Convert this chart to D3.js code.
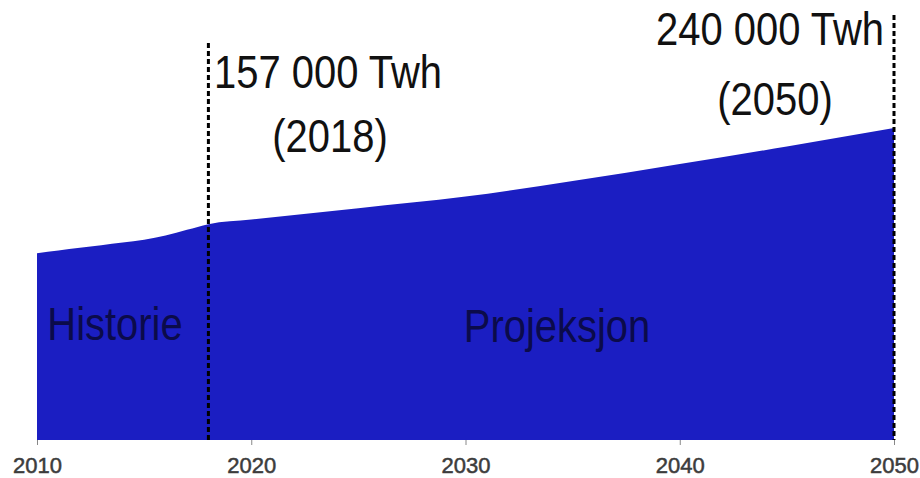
<!DOCTYPE html>
<html>
<head>
<meta charset="utf-8">
<script src="https://cdnjs.cloudflare.com/ajax/libs/d3/7.8.5/d3.min.js"></script>
<style>
  body { margin: 0; background: #fff; }
  text { font-family: "Liberation Sans", Arial, sans-serif; }
</style>
</head>
<body>
<div id="chart"></div>
<script>
// data (Twh)
var years  = [2010, 2011, 2012, 2013, 2014, 2015, 2016, 2017, 2018, 2020, 2025, 2030, 2035, 2040, 2045, 2050];
var energy = [131900, 134250, 136600, 138900, 141260, 143600, 147300, 152150, 157000, 160970, 170800, 180800, 194200, 208900, 224000, 240000];
var tickYears = [2010, 2020, 2030, 2040, 2050];
var markers = [
  { year: 2018, top: 43, lines: ["157 000 Twh", "(2018)"] },
  { year: 2050, top: 15, lines: ["240 000 Twh", "(2050)"] }
];
var yFloor = -29300; // the picture's baseline does not sit at zero

var w = 920, h = 478;

var svg = d3.select("#chart")
  .append("svg")
  .attr("width", w)
  .attr("height", h);

var x = d3.scaleLinear().domain([2010, 2050]).range([37, 894]);
var y = d3.scaleLinear().domain([yFloor, 240000]).range([440, 128]);

var data = years.map(function (yr, i) { return { year: yr, v: energy[i] }; });

// area
var area = d3.area()
  .x(function (d) { return x(d.year); })
  .y0(y(yFloor))
  .y1(function (d) { return y(d.v); })
  .curve(d3.curveMonotoneX);

svg.append("path")
  .datum(data)
  .attr("d", area)
  .attr("fill", "#1b1ec2");

// x axis
var axis = svg.append("g")
  .attr("transform", "translate(0," + y(yFloor) + ")")
  .call(d3.axisBottom(x).tickValues(tickYears).tickFormat(d3.format("d")).tickSize(5).tickPadding(12));
axis.select(".domain").remove();
axis.selectAll(".tick line").attr("stroke", "#888");
axis.selectAll(".tick text")
  .attr("fill", "#3c3c3c")
  .attr("stroke", "#3c3c3c")
  .attr("stroke-width", 0.5)
  .attr("font-size", "22px")
  .attr("font-family", "Liberation Sans, Arial, sans-serif");

// dashed markers
svg.selectAll(".marker")
  .data(markers)
  .enter()
  .append("line")
  .attr("class", "marker")
  .attr("x1", function (d) { return x(d.year); })
  .attr("x2", function (d) { return x(d.year); })
  .attr("y1", function (d) { return d.top; })
  .attr("y2", y(yFloor))
  .attr("stroke", "#000")
  .attr("stroke-width", 3)
  .attr("stroke-dasharray", "5,3");

// labels (text is narrow in the picture, so squeeze it)
function label(txt, cx, by, size, fill) {
  svg.append("text")
    .attr("transform", "translate(" + cx + "," + by + ") scale(0.85,1)")
    .attr("text-anchor", "middle")
    .attr("font-size", size + "px")
    .attr("fill", fill)
    .text(txt);
}

label(markers[0].lines[0], 328, 88, 47, "#111");
label(markers[0].lines[1], 330, 152, 47, "#111");
label(markers[1].lines[0], 770, 45, 47, "#111");
label(markers[1].lines[1], 775, 115, 47, "#111");

label("Historie", 115, 340, 47, "#0b0b4a");
label("Projeksjon", 557, 342, 47, "#0b0b4a");
</script>
</body>
</html>
